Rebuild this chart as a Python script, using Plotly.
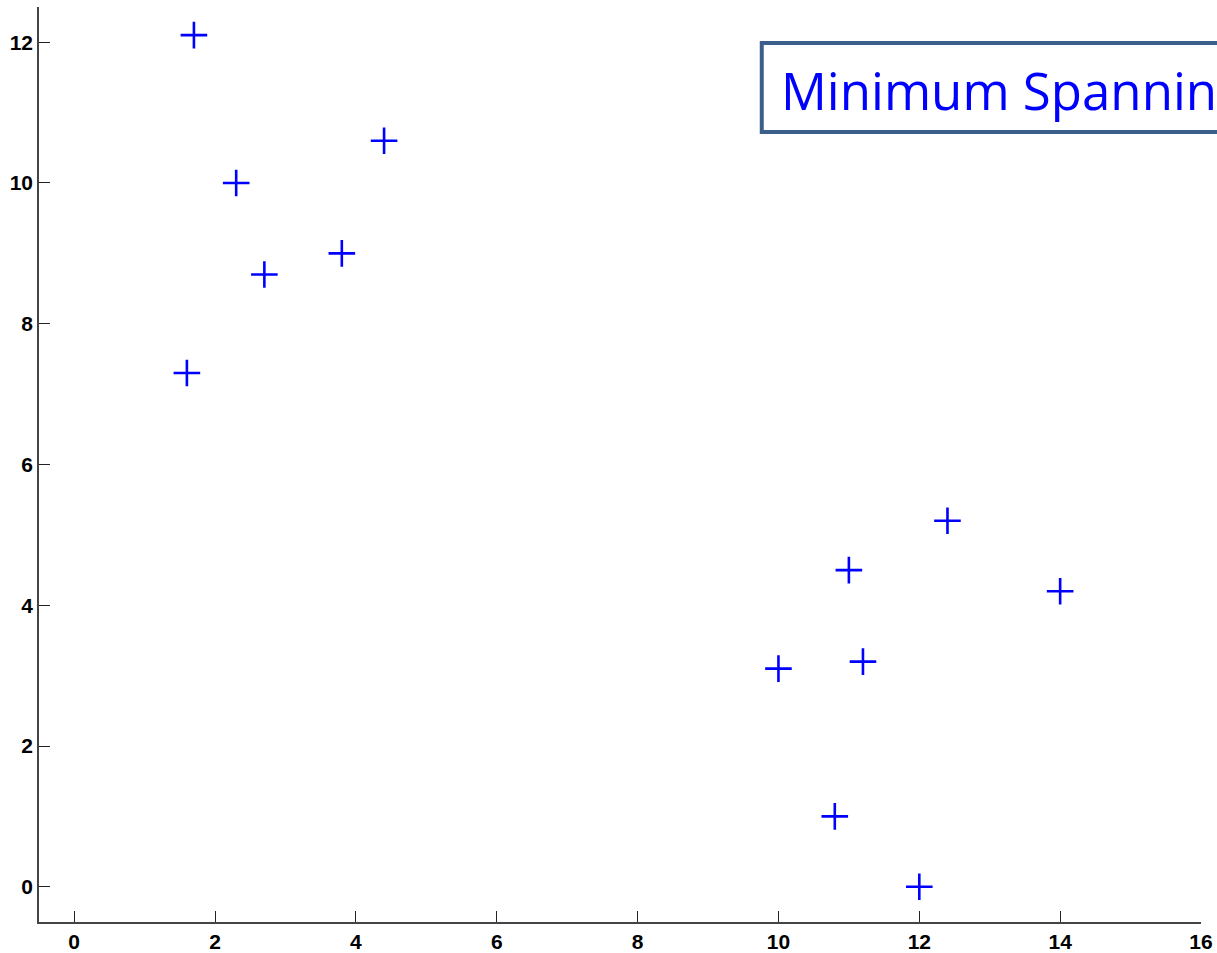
import plotly.graph_objects as go

x_vals = [1.7, 2.3, 4.4, 3.8, 2.7, 1.6, 12.4, 11.0, 14.0, 10.0, 11.2, 10.8, 12.0]
y_vals = [12.1, 10.0, 10.6, 9.0, 8.7, 7.3, 5.2, 4.5, 4.2, 3.1, 3.2, 1.0, 0.0]
x_ticks = [0, 2, 4, 6, 8, 10, 12, 14, 16]
y_ticks = [0, 2, 4, 6, 8, 10, 12]
title_text = "Minimum Spanning Tree"

fig = go.Figure()
fig.add_trace(go.Scatter(
    x=x_vals, y=y_vals, mode="markers",
    marker=dict(symbol="cross-thin", size=19, line=dict(color="#0000ff", width=2.6), color="#0000ff"),
    showlegend=False, cliponaxis=False,
))

axis_common = dict(
    showgrid=False, zeroline=False, showline=True, linecolor="#444444", linewidth=1.5,
    ticks="inside", ticklen=11, tickwidth=1.2, tickcolor="#222222", automargin=False,
    tickfont=dict(family="Liberation Sans, Arial, sans-serif", size=21, color="black", weight="bold"),
)
fig.update_xaxes(range=[-0.5, 16], tickvals=x_ticks, ticktext=[str(t) for t in x_ticks], **axis_common)
fig.update_yaxes(range=[-0.5, 12.5], tickvals=y_ticks, ticktext=[str(t) for t in y_ticks], **axis_common)

fig.add_shape(type="rect", xref="paper", yref="paper", x0=0.622, x1=1.1, y0=0.8634, y1=0.9607,
              line=dict(color="#3b5f8a", width=4), fillcolor="white", layer="above")
fig.add_annotation(xref="paper", yref="paper", x=0.637, y=0.909, xanchor="left", yanchor="middle",
                   text=title_text, showarrow=False,
                   font=dict(family="Open Sans, Noto Sans, sans-serif", size=51, color="#0000ff"))

fig.update_layout(
    width=1217, height=953,
    margin=dict(l=39, r=16, t=7, b=31),
    plot_bgcolor="white", paper_bgcolor="white",
)
fig.write_html("out.html", config={"displayModeBar": False},
               post_script="document.body.style.margin='0';document.body.style.overflow='hidden';")
